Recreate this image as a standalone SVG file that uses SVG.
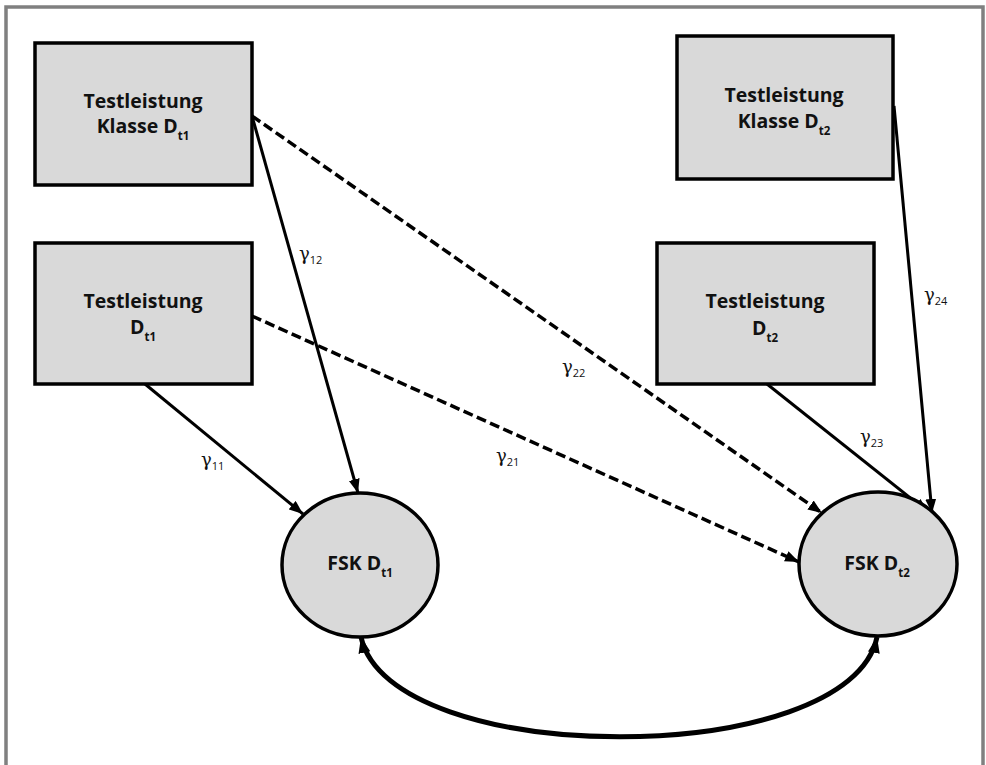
<svg xmlns="http://www.w3.org/2000/svg" width="986" height="765" viewBox="0 0 986 765">
  <defs>
    <style>
      .box { fill: #d9d9d9; stroke: #000; stroke-width: 3.5; }
      .lbl { font-family: "Open Sans", "Liberation Sans", sans-serif; font-weight: 700; font-size: 19.5px; fill: #111; text-anchor: middle; }
      .sub { font-size: 11.5px; }
      .edge { fill: none; stroke: #000; stroke-width: 3; }
      .dash { stroke-width: 3.5; stroke-dasharray: 10 4.5; }
      .curve { stroke-width: 5; }
      .gam { font-family: "DejaVu Serif", "Liberation Serif", serif; font-size: 18px; fill: #111; }
      .gsub { font-family: "Open Sans", "Liberation Sans", sans-serif; font-size: 11px; }
    </style>
    <marker id="arrow" markerUnits="userSpaceOnUse" markerWidth="15" markerHeight="12" refX="14" refY="5.5" orient="auto">
      <path d="M0,0 L14,5.5 L0,11 z" fill="#000"/>
    </marker>
    <marker id="arrowBig" markerUnits="userSpaceOnUse" markerWidth="17" markerHeight="13" refX="16" refY="6" orient="auto-start-reverse">
      <path d="M0,0 L16,6 L0,12 z" fill="#000"/>
    </marker>
  </defs>

  <!-- frame -->
  <rect x="6" y="7" width="977" height="780" fill="#fff" stroke="#808080" stroke-width="3.5"/>

  <!-- connectors -->
  <g id="connectors">
    <line class="edge" x1="145" y1="384" x2="303" y2="514" marker-end="url(#arrow)"/>
    <line class="edge" x1="252" y1="116" x2="358" y2="493" marker-end="url(#arrow)"/>
    <line class="edge dash" x1="252" y1="116" x2="822" y2="513" marker-end="url(#arrow)"/>
    <line class="edge dash" x1="252" y1="316" x2="799" y2="562" marker-end="url(#arrow)"/>
    <line class="edge" x1="767" y1="384" x2="928" y2="512" marker-end="url(#arrow)"/>
    <line class="edge" x1="894" y1="106" x2="932" y2="513" marker-end="url(#arrow)"/>
    <path class="edge curve" d="M361,637 C390,770 850,770 877,637" marker-start="url(#arrowBig)" marker-end="url(#arrowBig)"/>

    <text class="gam" x="201" y="466">γ<tspan class="gsub" dy="4">11</tspan></text>
    <text class="gam" x="299" y="260">γ<tspan class="gsub" dy="4">12</tspan></text>
    <text class="gam" x="496" y="462">γ<tspan class="gsub" dy="4">21</tspan></text>
    <text class="gam" x="562" y="373">γ<tspan class="gsub" dy="4">22</tspan></text>
    <text class="gam" x="860" y="443">γ<tspan class="gsub" dy="4">23</tspan></text>
    <text class="gam" x="924" y="301">γ<tspan class="gsub" dy="4">24</tspan></text>
  </g>

  <!-- nodes -->
  <g id="klasse-t1">
    <rect class="box" x="35" y="43" width="217" height="142"/>
    <text class="lbl" x="143" y="108">Testleistung</text>
    <text class="lbl" x="143" y="133">Klasse D<tspan class="sub" dy="7">t1</tspan></text>
  </g>
  <g id="test-t1">
    <rect class="box" x="35" y="243" width="217" height="141"/>
    <text class="lbl" x="143" y="308">Testleistung</text>
    <text class="lbl" x="143" y="334">D<tspan class="sub" dy="7">t1</tspan></text>
  </g>
  <g id="klasse-t2">
    <rect class="box" x="677" y="36" width="216" height="143"/>
    <text class="lbl" x="784" y="102">Testleistung</text>
    <text class="lbl" x="784" y="128">Klasse D<tspan class="sub" dy="7">t2</tspan></text>
  </g>
  <g id="test-t2">
    <rect class="box" x="657" y="243" width="217" height="141"/>
    <text class="lbl" x="765" y="308">Testleistung</text>
    <text class="lbl" x="765" y="335">D<tspan class="sub" dy="7">t2</tspan></text>
  </g>
  <g id="fsk-t1">
    <ellipse class="box" cx="360" cy="565" rx="78" ry="72"/>
    <text class="lbl" x="360" y="570">FSK D<tspan class="sub" dy="7">t1</tspan></text>
  </g>
  <g id="fsk-t2">
    <ellipse class="box" cx="878" cy="564" rx="79" ry="72"/>
    <text class="lbl" x="877" y="570">FSK D<tspan class="sub" dy="7">t2</tspan></text>
  </g>
</svg>
